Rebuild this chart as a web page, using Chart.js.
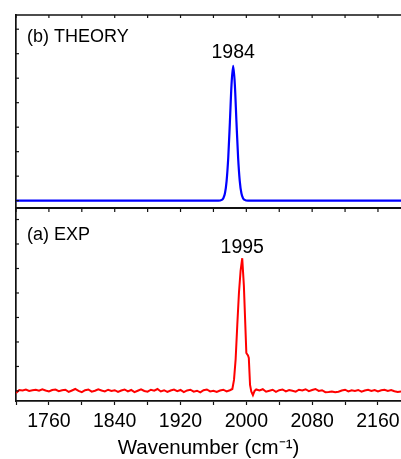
<!DOCTYPE html>
<html>
<head>
<meta charset="utf-8">
<script src="https://cdn.jsdelivr.net/npm/chart.js@4/dist/chart.umd.min.js"></script>
<style>
  html, body { margin: 0; padding: 0; background: #fff; }
  canvas { display: block; }
</style>
</head>
<body>
<canvas id="spectra" width="401" height="459"></canvas>
<script>
// (b) theory spectrum, arbitrary intensity units
const theoryX = [1720, 1800, 1880, 1940, 1966, 1970, 1972, 1974, 1976, 1978, 1980, 1982, 1984,
                 1986, 1988, 1990, 1992, 1994, 1996, 1998, 2002, 2060, 2120, 2188];
const theoryY = [0, 0, 0, 0, 0, 0.03, 0.1, 0.3, 0.8, 1.75, 3.2, 4.75, 5.5,
                 4.75, 3.2, 1.75, 0.8, 0.3, 0.1, 0.03, 0, 0, 0, 0];

// (a) experimental spectrum
const expX = [
  1720, 1724, 1728, 1732, 1736, 1740, 1744, 1748, 1752, 1756,
  1760, 1764, 1768, 1772, 1776, 1780, 1784, 1788, 1792, 1796,
  1800, 1804, 1808, 1812, 1816, 1820, 1824, 1828, 1832, 1836,
  1840, 1844, 1848, 1852, 1856, 1860, 1864, 1868, 1872, 1876,
  1880, 1884, 1888, 1892, 1896, 1900, 1904, 1908, 1912, 1916,
  1920, 1924, 1928, 1932, 1936, 1940, 1944, 1948, 1952, 1956,
  1960, 1964, 1968, 1972, 1976, 1980,
  1983, 1985, 1987, 1989, 1991, 1993, 1995, 1997, 2000, 2002, 2003, 2004.5, 2006, 2008, 2010,
  2012, 2016, 2020, 2024, 2028, 2032, 2036, 2040, 2044, 2048,
  2052, 2056, 2060, 2064, 2068, 2072, 2076, 2080, 2084, 2088,
  2092, 2096, 2100, 2104, 2108, 2112, 2116, 2120, 2124, 2128,
  2132, 2136, 2140, 2144, 2148, 2152, 2156, 2160, 2164, 2168,
  2172, 2176, 2180, 2184, 2188
];
const expY = [
  -0.08, 0.04, 0.02, 0.06, 0.00, 0.03, 0.05, 0.01, 0.07, 0.02,
  -0.02, 0.04, 0.06, -0.01, 0.03, 0.05, -0.04, 0.02, 0.08, 0.00,
  -0.05, 0.03, 0.06, -0.03, 0.01, 0.07, 0.02, -0.02, 0.05, 0.00,
  0.03, -0.04, 0.02, 0.06, -0.02, 0.04, -0.05, 0.01, 0.07, 0.00,
  -0.03, 0.05, 0.01, 0.08, -0.02, 0.03, -0.04, 0.02, 0.06, -0.01,
  0.04, -0.05, 0.02, 0.05, -0.03, 0.01, -0.06, 0.03, 0.06, -0.02,
  0.01, -0.04, 0.02, 0.05, -0.02, 0.03,
  0.08, 0.45, 1.3, 2.7, 4.0, 4.9, 5.42, 4.3, 1.55, 1.45, 1.35, 0.25, -0.02, -0.17, 0.0,
  0.06, 0.02, 0.07, -0.03, 0.01, 0.05, -0.04, 0.03, 0.06, -0.02,
  0.04, 0.01, -0.03, 0.05, 0.02, 0.07, -0.01, 0.04, 0.08, 0.00,
  0.03, -0.05, -0.04, -0.02, -0.05, -0.03, 0.02, 0.05, -0.02, 0.03,
  0.00, 0.04, -0.03, 0.02, 0.05, 0.00, 0.04, -0.02, 0.03, 0.05,
  0.00, 0.04, -0.01, -0.04, -0.02
];

const xRange = [1720, 2188];
const topRange = [-0.3, 7.58];
const bottomRange = [-0.41, 7.47];
const panelLabels = ['(b) THEORY', '(a) EXP'];
const peakLabels = ['1984', '1995'];
const peakAt = [1984, 1995];
const axisTitle = 'Wavenumber (cm\u207B\u00B9)';

const FONT = "'Liberation Sans', Arial, sans-serif";
Chart.defaults.font.family = FONT;
Chart.defaults.color = '#000';

function line(ctx, x1, y1, x2, y2) {
    ctx.beginPath();
    ctx.moveTo(x1, y1);
    ctx.lineTo(x2, y2);
    ctx.stroke();
}

// top edge, panel divider, inward ticks and labels
const framePlugin = {
    id: 'frame',
    afterDraw(chart) {
        const { ctx, chartArea: area, scales } = chart;
        const x = scales.x;
        const yTop = scales.yTop;
        const yBot = scales.yBot;
        ctx.save();
        ctx.strokeStyle = '#111';
        ctx.lineWidth = 1.5;
        line(ctx, area.left, area.top, area.right, area.top);
        ctx.lineWidth = 2;
        line(ctx, area.left, yBot.top, area.right, yBot.top);

        ctx.lineWidth = 1.2;
        x.ticks.forEach(t => {
            const px = x.getPixelForValue(t.value);
            line(ctx, px, area.top, px, area.top + 3);
            line(ctx, px, yBot.top, px, yBot.top + 4);
        });
        [yTop, yBot].forEach(s => {
            s.ticks.forEach(t => {
                const py = s.getPixelForValue(t.value);
                line(ctx, area.left, py, area.left + 3, py);
            });
        });

        ctx.fillStyle = '#000';
        ctx.textBaseline = 'middle';
        ctx.textAlign = 'left';
        ctx.font = '18px ' + FONT;
        ctx.fillText(panelLabels[0], area.left + 11, yTop.top + 22);
        ctx.fillText(panelLabels[1], area.left + 11, yBot.top + 27);

        ctx.textAlign = 'center';
        ctx.font = '19.5px ' + FONT;
        const tPeak = Math.max(...theoryY);
        const ePeak = Math.max(...expY);
        ctx.fillText(peakLabels[0], x.getPixelForValue(peakAt[0]), yTop.getPixelForValue(tPeak) - 13);
        ctx.fillText(peakLabels[1], x.getPixelForValue(peakAt[1]), yBot.getPixelForValue(ePeak) - 11);
        ctx.restore();
    }
};

const yAxis = (range) => ({
    type: 'linear',
    position: 'left',
    stack: 'panels',
    stackWeight: 1,
    min: range[0],
    max: range[1],
    ticks: { display: false, stepSize: 1, includeBounds: false },
    grid: { display: false, drawTicks: false },
    border: { display: true, color: '#111', width: 1.7 }
});

new Chart(document.getElementById('spectra'), {
    type: 'line',
    data: {
        datasets: [
            {
                label: 'Theory',
                data: theoryX.map((v, i) => ({ x: v, y: theoryY[i] })),
                yAxisID: 'yTop',
                borderColor: '#0000ff',
                borderWidth: 2.2,
                pointRadius: 0,
                cubicInterpolationMode: 'monotone'
            },
            {
                label: 'Experiment',
                data: expX.map((v, i) => ({ x: v, y: expY[i] })),
                yAxisID: 'yBot',
                borderColor: '#ff0000',
                borderWidth: 2,
                pointRadius: 0,
                tension: 0
            }
        ]
    },
    options: {
        responsive: false,
        animation: false,
        devicePixelRatio: 1,
        layout: { padding: { left: 16, top: 15, right: 0, bottom: 0 } },
        plugins: {
            legend: { display: false },
            tooltip: { enabled: false }
        },
        scales: {
            x: {
                type: 'linear',
                position: 'bottom',
                min: xRange[0],
                max: xRange[1],
                afterFit: s => {
                    s.height = 58;
                    s.paddingLeft = 0;
                    s.paddingRight = 0;
                },
                ticks: {
                    stepSize: 40,
                    includeBounds: false,
                    maxRotation: 0,
                    autoSkip: false,
                    padding: 5,
                    font: { size: 19.5 },
                    callback: v => ((v - 1760) % 80 === 0 ? String(v) : '')
                },
                grid: {
                    drawOnChartArea: false,
                    drawTicks: true,
                    tickLength: 4,
                    tickColor: '#111',
                    tickWidth: 1.2
                },
                border: { display: true, color: '#111', width: 1.7 },
                title: {
                    display: true,
                    text: axisTitle,
                    font: { size: 20.5, lineHeight: 1.0 },
                    padding: { top: 0, bottom: 0 }
                }
            },
            yBot: yAxis(bottomRange),
            yTop: yAxis(topRange)
        }
    },
    plugins: [framePlugin]
});
</script>
</body>
</html>
